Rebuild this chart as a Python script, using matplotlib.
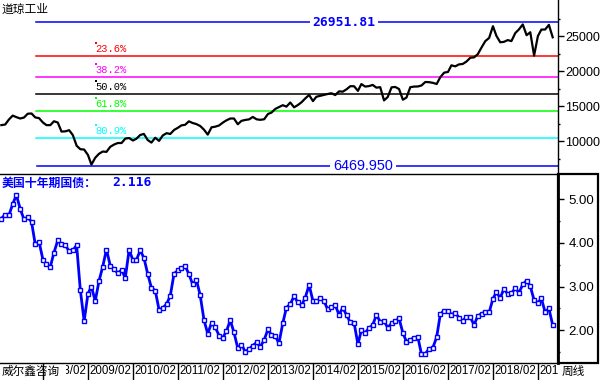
import matplotlib
matplotlib.use("Agg")
import matplotlib.pyplot as plt
import matplotlib.dates as mdates
import pandas as pd
from matplotlib.patches import Rectangle
from matplotlib.transforms import blended_transform_factory, offset_copy

plt.rcParams['font.family'] = ['Liberation Sans', 'Noto Sans CJK SC', 'DejaVu Sans']

# monthly values, Feb 2007 .. May 2019
dates = pd.date_range('2007-02-28', '2019-05-31', freq='ME')

dow = [
    12268, 12354, 13063, 13628, 13409, 13212, 13358, 13896, 13930, 13372, 13265,
    12650, 12266, 12263, 12820, 12638, 11350, 11378, 11544, 10851, 9325, 8829, 8776,
    8001, 6627, 7609, 8168, 8500, 8447, 9172, 9496, 9712, 9713, 10345, 10428,
    10067, 10325, 10857, 11009, 10137, 9774, 10466, 10015, 10788, 11118, 11006, 11578,
    11892, 12226, 12320, 12811, 12570, 12414, 12143, 11614, 10913, 11955, 12046, 12218,
    12633, 12952, 13212, 13214, 12393, 12880, 13009, 13091, 13437, 13096, 13026, 13104,
    13861, 14054, 14579, 14840, 15116, 14910, 15500, 14810, 15130, 15546, 16086, 16577,
    15699, 16322, 16458, 16581, 16717, 16827, 16563, 17098, 17043, 17391, 17828, 17823,
    17165, 18133, 17776, 17841, 18011, 17620, 17690, 15800, 16285, 17664, 17720, 17425,
    15900, 16200, 17685, 17774, 17787, 17930, 18432, 18401, 18308, 18142, 19124, 19763,
    19864, 20812, 20663, 20941, 21009, 21350, 21891, 21948, 22405, 23377, 24272, 24719,
    26400, 25029, 24103, 24163, 24416, 24271, 25415, 25965, 26650, 25116, 25538, 22200,
    25000, 25916, 25929, 26593, 24815,
]

ust10y = [
    4.56, 4.65, 4.63, 4.89, 5.10, 4.78, 4.54, 4.59, 4.48, 3.97, 4.03,
    3.62, 3.51, 3.45, 3.78, 4.06, 3.97, 3.95, 3.81, 3.83, 3.95, 2.92, 2.21,
    2.84, 3.00, 2.67, 3.12, 3.46, 3.85, 3.48, 3.40, 3.31, 3.38, 3.20, 3.84,
    3.61, 3.61, 3.83, 3.66, 3.29, 2.97, 2.91, 2.47, 2.51, 2.60, 2.79, 3.30,
    3.37, 3.42, 3.47, 3.29, 3.05, 3.16, 2.80, 2.23, 1.92, 2.17, 2.07, 1.88,
    1.83, 1.98, 2.23, 1.95, 1.59, 1.67, 1.51, 1.57, 1.65, 1.72, 1.62, 1.78,
    2.02, 1.89, 1.87, 1.70, 2.16, 2.52, 2.60, 2.78, 2.64, 2.57, 2.75, 3.04,
    2.67, 2.66, 2.73, 2.67, 2.48, 2.53, 2.58, 2.35, 2.52, 2.35, 2.18, 2.17,
    1.68, 2.00, 1.94, 2.05, 2.12, 2.35, 2.20, 2.21, 2.06, 2.16, 2.21, 2.27,
    1.94, 1.74, 1.78, 1.83, 1.85, 1.45, 1.46, 1.58, 1.60, 1.84, 2.37, 2.45,
    2.45, 2.36, 2.40, 2.29, 2.21, 2.31, 2.30, 2.12, 2.33, 2.38, 2.42, 2.41,
    2.72, 2.87, 2.74, 2.95, 2.83, 2.85, 2.96, 2.86, 3.05, 3.14, 3.01, 2.69,
    2.63, 2.73, 2.41, 2.50, 2.12,
]

dow_high = 26951.81
dow_low = 6469.950
fib_ratios = [0.236, 0.382, 0.5, 0.618, 0.809]
fib_labels = ['23.6%', '38.2%', '50.0%', '61.8%', '80.9%']
fib_colors = ['#ff0000', '#ff00ff', '#000000', '#00ff00', '#00ffff']

tick_years = list(range(2008, 2020))
tick_dates = pd.to_datetime([f'{y}-02-01' for y in tick_years])
tick_labels = [f'{y}/02' for y in tick_years]

dow_ticks = [10000, 15000, 20000, 25000]
ust_ticks = [2.0, 3.0, 4.0, 5.0]
last_yield = 2.116

W, H = 600, 380
xr = 558  # right edge of plot area in px
xlim = (pd.Timestamp('2007-02-17'), pd.Timestamp('2019-07-13'))

fig = plt.figure(figsize=(6, 3.8), dpi=100)
ax1 = fig.add_axes([0, 1 - 174 / H, xr / W, 174 / H])
ax2 = fig.add_axes([0, 1 - 363 / H, xr / W, (363 - 174) / H])

# ---- top panel: Dow Jones ----
ax1.plot(dates, dow, color='black', lw=1.6, zorder=3)
ax1.set_xlim(xlim)
ax1.set_ylim(5286, 30143)

x0 = 36 / xr
ax1.axhline(dow_high, xmin=x0, xmax=1, color='#0000ff', lw=1.1)
ax1.axhline(dow_low, xmin=37 / xr, xmax=1, color='#0000ff', lw=1.1)
span = dow_high - dow_low
tr = blended_transform_factory(ax1.transAxes, ax1.transData)
for r, lab, c in zip(fib_ratios, fib_labels, fib_colors):
    lvl = dow_high - r * span
    ax1.axhline(lvl, xmin=x0, xmax=1, color=c, lw=1.1)
    ax1.text(95 / xr, lvl, lab, color=c, fontsize=7.5, family='Liberation Mono',
             transform=offset_copy(tr, fig, x=0, y=2, units='dots'),
             ha='left', va='bottom')
    ax1.plot([96 / xr], [lvl], marker='s', ms=1.6, color=c, mew=0,
             transform=offset_copy(tr, fig, x=0, y=13, units='dots'))

ax1.text(344 / xr, dow_high, f'{dow_high:.2f}', color='#0000ff', fontsize=9.4,
         family='DejaVu Sans Mono', weight='bold', transform=tr,
         ha='center', va='center',
         bbox=dict(facecolor='white', edgecolor='none', pad=2))
ax1.text(363 / xr, dow_low, f'{dow_low:.3f}', color='#0000ff', fontsize=10.4,
         transform=tr, ha='center', va='center',
         bbox=dict(facecolor='white', edgecolor='none', pad=2))
ax1.text(2 / xr, 1 - 9 / 174, '道琼工业', transform=ax1.transAxes,
         fontsize=8.5, family=['Noto Sans CJK SC'], ha='left', va='center')

for s in ['left', 'top', 'bottom']:
    ax1.spines[s].set_visible(False)
ax1.spines['right'].set_linewidth(1)
ax1.set_xticks([])
ax1.yaxis.tick_right()
ax1.set_yticks(dow_ticks)
ax1.set_yticks([7500, 12500, 17500, 22500, 27500], minor=True)
ax1.set_yticklabels([str(v) for v in dow_ticks], fontsize=9)
ax1.tick_params(axis='y', which='major', length=4.5, width=1, pad=0.5)
ax1.tick_params(axis='y', which='minor', length=1.5, width=1)

# ---- bottom panel: 10Y treasury ----
ax2.plot(dates, ust10y, color='#0000ff', lw=2, marker='s', ms=3,
         mfc='white', mec='#0000ff', mew=1, zorder=3)
ax2.set_xlim(xlim)
ax2.set_ylim(1.25, 5.58)
ax2.spines['left'].set_visible(False)
ax2.spines['top'].set_linewidth(1)
ax2.spines['bottom'].set_linewidth(1)
ax2.spines['right'].set_linewidth(2)
ax2.yaxis.tick_right()
ax2.set_yticks(ust_ticks)
ax2.set_yticks([1.5, 2.5, 3.5, 4.5], minor=True)
ax2.set_yticklabels([f'{v:.2f}' for v in ust_ticks], fontsize=9.5)
ax2.tick_params(axis='y', which='major', length=4.5, width=1, pad=3)
ax2.tick_params(axis='y', which='minor', length=1.5, width=1)
ax2.set_xticks(tick_dates)
ax2.tick_params(axis='x', direction='out', length=12.5, width=1,
                labelbottom=False)

ax2.text(2 / xr, 1 - 9 / 189, '美国十年期国债：', transform=ax2.transAxes,
         color='#0000ff', fontsize=8.6, weight='bold',
         family=['Noto Sans CJK SC'], ha='left', va='center')
ax2.text(112 / xr, 1 - 9 / 189, f'{last_yield:.3f}', transform=ax2.transAxes,
         color='#0000ff', fontsize=9.4, weight='bold',
         family='DejaVu Sans Mono', ha='left', va='center')

# right label box of the lower panel
fig.add_artist(Rectangle((xr / W, 1 - 363 / H), 40 / W, 189 / H,
                         transform=fig.transFigure, fill=False,
                         edgecolor='black', lw=1.6))

# date labels along the bottom, clipped between the left caption and the axis
clip = Rectangle((66 / W, 0), (xr - 66) / W, 1, transform=fig.transFigure)
lab_tr = blended_transform_factory(ax2.transData, fig.transFigure)
ylab = 1 - 371.5 / H
for d, lab in zip(tick_dates, tick_labels):
    t = fig.text(mdates.date2num(d), ylab, lab,
                 transform=offset_copy(lab_tr, fig, x=1.5, y=0, units='dots'),
                 fontsize=8.3, ha='left', va='center', clip_on=True)
    t.set_clip_path(clip)
fig.text(2 / W, ylab, '威尔鑫咨询', fontsize=8.4, family=['Noto Sans CJK SC'],
         ha='left', va='center')
fig.text(562 / W, ylab, '周线', fontsize=8.4, family=['Noto Sans CJK SC'],
         ha='left', va='center')

fig.savefig('out.png', dpi=100)
